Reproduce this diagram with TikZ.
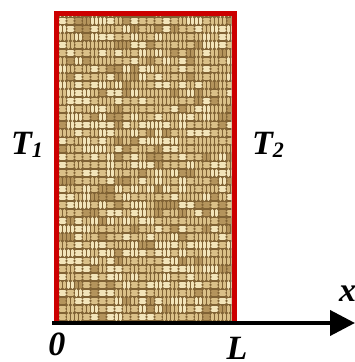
\documentclass[tikz,border=0pt]{standalone}
\usepackage{fontspec}
\setmainfont{Liberation Serif}
\usetikzlibrary{arrows.meta}
\definecolor{burlapbg}{RGB}{128,98,52}
\definecolor{burlapthread}{RGB}{218,192,136}
\definecolor{burlaplight}{RGB}{242,228,185}
\definecolor{burlapmid}{RGB}{180,148,92}
\definecolor{edgered}{RGB}{204,0,0}
\tikzset{
  lbl/.style={inner sep=0pt,font=\fontsize{34}{34}\selectfont\bfseries\itshape},
  thread/.style={line width=3pt,burlapthread,line cap=round},
  threadlight/.style={line width=3pt,burlaplight,line cap=round},
  threadmid/.style={line width=3pt,burlapmid,line cap=round},
  wall/.style={draw=edgered,line width=5pt},
  axis/.style={line width=4pt,-{Triangle[length=25pt,width=25pt]}}
}
\newcommand{\subidx}[1]{\raisebox{-3pt}{\fontsize{22}{22}\selectfont #1}}
\begin{document}
\begin{tikzpicture}[x=1pt,y=1pt]
\useasboundingbox (0,0) rectangle (355,362);
% slab texture
\pgfmathsetseed{12}
\begin{scope}
\clip (58.5,41) rectangle (231.5,346);
\fill[burlapbg] (58.5,41) rectangle (231.5,346);
\foreach \i in {0,...,21}{
  \foreach \j in {0,...,38}{
    \pgfmathtruncatemacro{\pp}{random(0,1)}
    \pgfmathtruncatemacro{\qq}{random(0,5)}
    \ifcase\qq \def\tst{threadmid}\or\def\tst{threadlight}\or\def\tst{threadlight}\else\def\tst{thread}\fi
    \ifnum\pp=0
      \draw[\tst] (60+\i*8,43+\j*8) -- ++(5,0);
      \draw[\tst] (60+\i*8,46.5+\j*8) -- ++(5,0);
    \else
      \draw[\tst] (60.5+\i*8,42.5+\j*8) -- ++(0,5);
      \draw[\tst] (64+\i*8,42.5+\j*8) -- ++(0,5);
    \fi
  }
}
\end{scope}
% red walls
\coordinate (bl) at (56,41);
\coordinate (tl) at (56,348.5);
\coordinate (tr) at (234,348.5);
\coordinate (br) at (234,41);
\draw[wall] (bl) -- (tl) -- (tr) -- (br);
% axis
\coordinate (o) at (52,39);
\coordinate (xend) at (355,39);
\draw[axis] (o) -- (xend);
% labels
\node[lbl,anchor=base west] (t1) at (11,207) {T\subidx{1}};
\node[lbl,anchor=base west] (t2) at (252,207) {T\subidx{2}};
\node[lbl,anchor=base] (zero) at (57,6) {0};
\node[lbl,anchor=base] (ell) at (237,2) {L};
\node[lbl,anchor=base west] (xlab) at (339,60) {x};
\end{tikzpicture}
\end{document}
